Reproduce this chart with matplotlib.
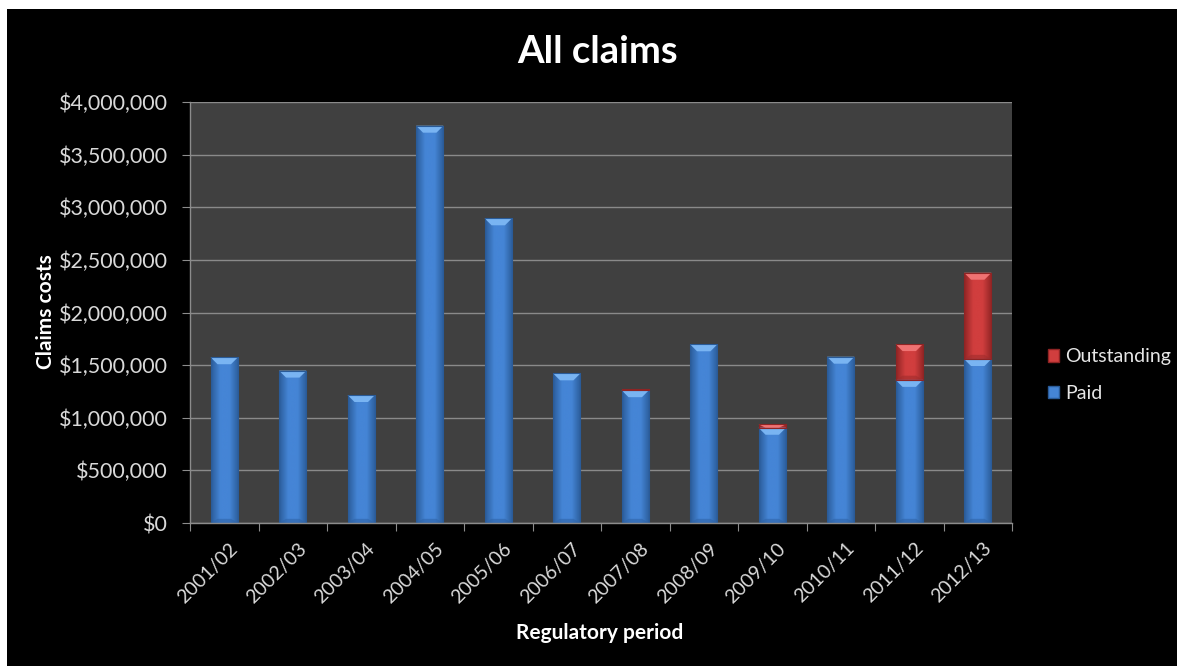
import numpy as np
import matplotlib
matplotlib.use("Agg")
import matplotlib.pyplot as plt
import matplotlib.transforms as mtransforms
from matplotlib.patches import Polygon, Rectangle
from matplotlib.colors import LinearSegmentedColormap
from matplotlib.ticker import FuncFormatter, FixedLocator, NullFormatter

plt.rcParams['font.family'] = ['Lato', 'DejaVu Sans']

periods = ["2001/02", "2002/03", "2003/04", "2004/05", "2005/06", "2006/07",
           "2007/08", "2008/09", "2009/10", "2010/11", "2011/12", "2012/13"]
paid = [1575000, 1448000, 1216000, 3775000, 2895000, 1422000,
        1262000, 1698000, 905000, 1580000, 1360000, 1558000]
outstanding = [0, 0, 0, 0, 0, 0,
               9000, 0, 33000, 0, 340000, 820000]
y_ticks = [0, 500000, 1000000, 1500000, 2000000, 2500000, 3000000, 3500000, 4000000]

W, H, DPI = 1177, 666, 100
fig = plt.figure(figsize=(W / DPI, H / DPI), dpi=DPI, facecolor="white")
# black chart area inset from the top/left edge
fig.patches.append(Rectangle((7 / W, 0), 1 - 7 / W, 1 - 9 / H, transform=fig.transFigure,
                             facecolor="black", edgecolor="none", zorder=-10))

ax_l, ax_r, ax_b, ax_t = 190, 1012, 523, 102
ax = fig.add_axes([ax_l / W, 1 - ax_b / H, (ax_r - ax_l) / W, (ax_b - ax_t) / H])
ax.set_facecolor("#404040")

x = np.arange(len(periods))
ax.set_xlim(-0.5, len(periods) - 0.5)
ax.set_ylim(0, 4000000)
px_per_y = (ax_b - ax_t) / 4000000.0
px_per_x = (ax_r - ax_l) / len(periods)

blue = dict(mid="#4585d6", edge="#2a5b98", top="#79b4f2", bottom="#2f64a8")
red = dict(mid="#d13e3e", edge="#8f2424", top="#ef7272", bottom="#a02c2c")


def bevel_bars(bars, c):
    cmap = LinearSegmentedColormap.from_list(
        "g", [c["edge"], c["mid"], c["mid"], c["edge"]], N=256)
    grad = np.linspace(0, 1, 256).reshape(1, -1)
    for r in bars:
        x0, y0 = r.get_x(), r.get_y()
        w, h = r.get_width(), r.get_height()
        if h <= 0:
            continue
        r.set_facecolor(c["mid"])
        im = ax.imshow(grad, cmap=cmap, aspect="auto", extent=(x0, x0 + w, y0, y0 + h),
                       interpolation="bicubic", zorder=2.1)
        im.set_clip_path(r)
        dy = min(7 / px_per_y, h)
        dx = min(7 / px_per_x, w / 2)
        top = y0 + h
        ax.add_patch(Polygon([(x0, top), (x0 + w, top), (x0 + w - dx, top - dy), (x0 + dx, top - dy)],
                             closed=True, facecolor=c["top"], edgecolor="none", zorder=2.2))
        if h > 2 * dy:
            ax.add_patch(Polygon([(x0, y0), (x0 + w, y0), (x0 + w - dx, y0 + dy * 0.6), (x0 + dx, y0 + dy * 0.6)],
                                 closed=True, facecolor=c["bottom"], edgecolor="none", alpha=0.6, zorder=2.2))
        ax.add_patch(Rectangle((x0, y0), w, h, facecolor="none", edgecolor=c["edge"],
                               linewidth=0.8, zorder=2.3))


bars_paid = ax.bar(x, paid, width=0.4, color=blue["mid"], zorder=2)
bars_out = ax.bar(x, outstanding, width=0.4, bottom=paid, color=red["mid"], zorder=2)
bevel_bars(bars_paid, blue)
bevel_bars(bars_out, red)

# axes styling
for s in ["top", "right"]:
    ax.spines[s].set_visible(False)
for s in ["left", "bottom"]:
    ax.spines[s].set_color("#8c8c8c")
    ax.spines[s].set_linewidth(1.0)
ax.set_yticks(y_ticks)
ax.yaxis.set_major_formatter(FuncFormatter(lambda v, p: "${:,.0f}".format(v)))
ax.yaxis.grid(True, color="#8a8a8a", linewidth=1.0)
ax.set_axisbelow(True)
ax.tick_params(axis="y", direction="out", length=6, color="#8c8c8c",
               labelcolor="#d9d9d9", labelsize=15.5, pad=10)

ax.xaxis.set_major_locator(FixedLocator(np.arange(len(periods) + 1) - 0.5))
ax.xaxis.set_major_formatter(NullFormatter())
ax.xaxis.set_minor_locator(FixedLocator(x))
ax.set_xticks(x, periods, minor=True)
ax.tick_params(axis="x", which="major", direction="out", length=6, color="#8c8c8c")
ax.tick_params(axis="x", which="minor", length=0, labelcolor="#d9d9d9", labelsize=14, pad=12)
shift = mtransforms.ScaledTranslation(5 / DPI, 0, fig.dpi_scale_trans)
for lab in ax.get_xticklabels(minor=True):
    lab.set_rotation(45)
    lab.set_ha("right")
    lab.set_va("top")
    lab.set_rotation_mode("anchor")
    lab.set_transform(lab.get_transform() + shift)

fig.text(598 / W, 1 - 52 / H, "All claims", ha="center", va="center",
         fontsize=27.5, fontweight="bold", color="white")
fig.text(46 / W, 1 - 312 / H, "Claims costs", ha="center", va="center", rotation=90,
         fontsize=15, fontweight="bold", color="white")
fig.text(600 / W, 1 - 633 / H, "Regulatory period", ha="center", va="center",
         fontsize=15, fontweight="bold", color="white")

# legend
leg_handles = [Rectangle((0, 0), 1, 1, facecolor=red["mid"], edgecolor=red["edge"]),
               Rectangle((0, 0), 1, 1, facecolor=blue["mid"], edgecolor=blue["edge"])]
leg = fig.legend(leg_handles, ["Outstanding", "Paid"], loc="center left",
                 bbox_to_anchor=(1030 / W, 1 - 375 / H), frameon=False,
                 handlelength=0.6, handleheight=0.6, handletextpad=0.3,
                 labelspacing=1.0, fontsize=14, labelcolor="#e6e6e6")

fig.savefig("out.png", dpi=DPI, facecolor=fig.get_facecolor())
